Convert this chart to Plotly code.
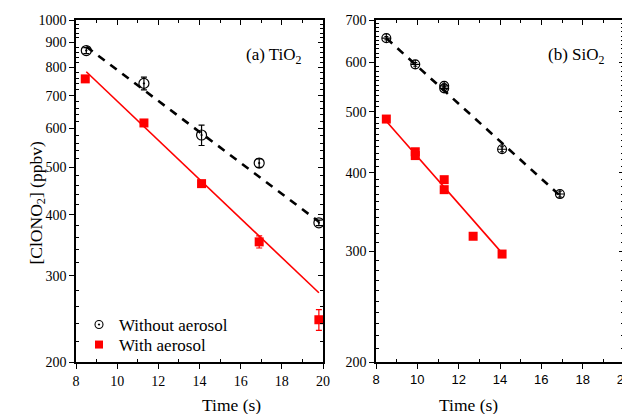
import math
import plotly.graph_objects as go

# ---------------- data ----------------
# Panel (a) TiO2
tio2_t_no = [8.5, 11.3, 14.1, 16.9, 19.8]
tio2_c_no = [866, 742, 582, 510, 385]
tio2_e_no = [12, 22, 28, 10, 5]
tio2_t_ae = [8.45, 11.3, 14.1, 16.9, 19.8]
tio2_c_ae = [758, 616, 463, 352, 244]
tio2_e_ae = [8, 5, 5, 10, 12]
tio2_fit_t_no = [8.5, 19.8]
tio2_fit_c_no = [882, 387]
tio2_fit_t_ae = [8.5, 19.8]
tio2_fit_c_ae = [784, 277]

# Panel (b) SiO2
sio2_t_no = [8.5, 9.9, 11.3, 11.3, 14.1, 16.9]
sio2_c_no = [655, 595, 550, 545, 436, 370]
sio2_e_no = [4, 4, 4, 4, 4, 4]
sio2_t_ae = [8.5, 9.9, 9.9, 11.3, 11.3, 12.7, 14.1]
sio2_c_ae = [487, 432, 426, 390, 376, 317, 297]
sio2_e_ae = [3, 3, 3, 3, 3, 3, 3]
sio2_fit_t_no = [8.5, 16.9]
sio2_fit_c_no = [655, 368]
sio2_fit_t_ae = [8.5, 14.1]
sio2_fit_c_ae = [483, 298]

x_ticks = [8, 10, 12, 14, 16, 18, 20]
x_minor = [9, 11, 13, 15, 17, 19]
ya_ticks = [200, 300, 400, 500, 600, 700, 800, 900, 1000]
yb_ticks = [200, 300, 400, 500, 600, 700]

RED = "#FF0000"
SERIF = "Liberation Serif"
SANS = "Liberation Sans"

# page body has an 8px margin -> figure is 8px smaller and shifted
OFF = 8
W, H = 630 - OFF, 414 - OFF


def px(x):
    return (x - OFF) / W


def py(y):
    return 1 - (y - OFF) / H


fig = go.Figure()

# ---- panel (a)
fig.add_trace(go.Scatter(x=tio2_fit_t_no, y=tio2_fit_c_no, mode="lines",
                         line=dict(color="black", width=2.6, dash="8px,7px"),
                         showlegend=False, xaxis="x", yaxis="y"))
fig.add_trace(go.Scatter(x=tio2_fit_t_ae, y=tio2_fit_c_ae, mode="lines",
                         line=dict(color=RED, width=1.6),
                         showlegend=False, xaxis="x", yaxis="y"))
fig.add_trace(go.Scatter(x=tio2_t_no, y=tio2_c_no, mode="markers", name="Without aerosol",
                         legendgroup="no", showlegend=False,
                         marker=dict(symbol="circle-open-dot", size=10, color="black",
                                     line=dict(width=1.2)),
                         error_y=dict(type="data", array=tio2_e_no, color="black",
                                      thickness=1.2, width=3),
                         xaxis="x", yaxis="y"))
fig.add_trace(go.Scatter(x=tio2_t_ae, y=tio2_c_ae, mode="markers", name="With aerosol",
                         legendgroup="ae", showlegend=False,
                         marker=dict(symbol="square", size=9, color=RED),
                         error_y=dict(type="data", array=tio2_e_ae, color=RED,
                                      thickness=1.2, width=3),
                         xaxis="x", yaxis="y"))
# legend entries (smaller symbols as in the reference), one legend box each
fig.add_trace(go.Scatter(x=[None], y=[None], mode="markers", name="Without aerosol",
                         legendgroup="no", legend="legend",
                         marker=dict(symbol="circle-open-dot", size=8, color="black",
                                     line=dict(width=1.1)),
                         xaxis="x", yaxis="y"))
fig.add_trace(go.Scatter(x=[None], y=[None], mode="markers", name="With aerosol",
                         legendgroup="ae", legend="legend2",
                         marker=dict(symbol="square", size=8, color=RED),
                         xaxis="x", yaxis="y"))

# ---- panel (b)
fig.add_trace(go.Scatter(x=sio2_fit_t_no, y=sio2_fit_c_no, mode="lines",
                         line=dict(color="black", width=2.6, dash="8px,7px"),
                         showlegend=False, xaxis="x2", yaxis="y2"))
fig.add_trace(go.Scatter(x=sio2_fit_t_ae, y=sio2_fit_c_ae, mode="lines",
                         line=dict(color=RED, width=1.6),
                         showlegend=False, xaxis="x2", yaxis="y2"))
fig.add_trace(go.Scatter(x=sio2_t_no, y=sio2_c_no, mode="markers",
                         marker=dict(symbol="circle-cross-open", size=9, color="black",
                                     line=dict(width=1.1)),
                         error_y=dict(type="data", array=sio2_e_no, color="black",
                                      thickness=1, width=2),
                         showlegend=False, xaxis="x2", yaxis="y2"))
fig.add_trace(go.Scatter(x=sio2_t_ae, y=sio2_c_ae, mode="markers",
                         marker=dict(symbol="square", size=9, color=RED),
                         error_y=dict(type="data", array=sio2_e_ae, color=RED,
                                      thickness=1, width=2),
                         showlegend=False, xaxis="x2", yaxis="y2"))

dom_xa = [px(76), px(323)]
dom_xb = [px(376), px(624)]
dom_y = [py(362), py(20)]


def minor_vals(lo, hi, step, majors):
    return [v for v in range(lo, hi + 1, step) if v not in majors]


ya_minor = minor_vals(200, 1000, 20, ya_ticks)
yb_minor = minor_vals(200, 700, 10, yb_ticks)

tickfont_serif = dict(family=SERIF, size=14, color="black")
tickfont_sans = dict(family=SANS, size=13, color="black")


def xaxis(domain, anchor, font, overlay=None, top=False):
    d = dict(domain=domain, anchor=anchor, range=[8, 20], tickvals=x_ticks,
             showline=True, linecolor="black", linewidth=1.5,
             ticks="inside" if top else "outside", ticklen=5, tickwidth=1.3,
             tickcolor="black", showgrid=False, zeroline=False,
             minor=dict(tickvals=x_minor, ticks="inside", ticklen=3, tickwidth=1.2,
                        tickcolor="black", showgrid=False),
             tickfont=font, automargin=False, showticklabels=not top,
             ticklabeloverflow="allow")
    if top:
        d.update(side="top", overlaying=overlay)
    return d


def yaxis(domain, anchor, rng, tv, mv, overlay=None, right=False):
    d = dict(domain=domain, anchor=anchor, type="log",
             range=[math.log10(rng[0]), math.log10(rng[1])], tickvals=tv,
             ticktext=[str(v) for v in tv],
             showline=True, linecolor="black", linewidth=1.5,
             ticks="inside" if right else "outside", ticklen=5, tickwidth=1.3,
             tickcolor="black", showgrid=False, zeroline=False,
             minor=dict(tickvals=mv, ticks="inside", ticklen=3, tickwidth=1,
                        tickcolor="black", showgrid=False),
             tickfont=tickfont_serif, automargin=False, showticklabels=not right)
    if right:
        d.update(side="right", overlaying=overlay)
    return d


LEG_FONT = dict(family=SERIF, size=17, color="black")
fig.update_layout(
    width=W, height=H,
    margin=dict(l=0, r=0, t=0, b=0),
    paper_bgcolor="white", plot_bgcolor="white",
    font=dict(family=SERIF, color="black"),
    xaxis=xaxis(dom_xa, "y", tickfont_serif),
    yaxis=yaxis(dom_y, "x", [200, 1000], ya_ticks, ya_minor),
    xaxis2=xaxis(dom_xb, "y2", tickfont_sans),
    yaxis2=yaxis(dom_y, "x2", [200, 700], yb_ticks, yb_minor),
    xaxis3=xaxis(dom_xa, "y", tickfont_serif, overlay="x", top=True),
    yaxis3=yaxis(dom_y, "x", [200, 1000], ya_ticks, ya_minor, overlay="y", right=True),
    xaxis4=xaxis(dom_xb, "y2", tickfont_sans, overlay="x2", top=True),
    yaxis4=yaxis(dom_y, "x2", [200, 700], yb_ticks, yb_minor, overlay="y2", right=True),
    legend=dict(x=px(79), y=py(325), xanchor="left", yanchor="middle",
                bgcolor="rgba(0,0,0,0)", font=LEG_FONT),
    legend2=dict(x=px(79), y=py(345), xanchor="left", yanchor="middle",
                 bgcolor="rgba(0,0,0,0)", font=LEG_FONT),
    showlegend=True,
)

# invisible traces to anchor overlay axes
fig.add_trace(go.Scatter(x=[8], y=[300], mode="markers", marker=dict(opacity=0),
                         showlegend=False, hoverinfo="skip", xaxis="x3", yaxis="y3"))
fig.add_trace(go.Scatter(x=[8], y=[300], mode="markers", marker=dict(opacity=0),
                         showlegend=False, hoverinfo="skip", xaxis="x4", yaxis="y4"))

# axis titles and panel labels
TITLE_FONT = dict(family=SERIF, size=17.5, color="black")
fig.add_annotation(text="Time (s)", xref="paper", yref="paper",
                   x=(dom_xa[0] + dom_xa[1]) / 2, y=py(405), yanchor="middle",
                   showarrow=False, font=TITLE_FONT)
fig.add_annotation(text="Time (s)", xref="paper", yref="paper",
                   x=(dom_xb[0] + dom_xb[1]) / 2, y=py(405), yanchor="middle",
                   showarrow=False, font=TITLE_FONT)
fig.add_annotation(text="[ClONO<sub>2</sub>] (ppbv)", xref="paper", yref="paper",
                   x=px(23), y=py(203), showarrow=False, textangle=-90,
                   font=TITLE_FONT)
fig.add_annotation(text="(a) TiO<sub>2</sub>", xref="paper", yref="paper",
                   x=px(304), y=py(43), xanchor="right", showarrow=False,
                   font=dict(family=SERIF, size=17, color="black"))
fig.add_annotation(text="(b) SiO<sub>2</sub>", xref="paper", yref="paper",
                   x=px(607), y=py(43), xanchor="right", showarrow=False,
                   font=dict(family=SERIF, size=17, color="black"))

fig.write_html("out.html")
